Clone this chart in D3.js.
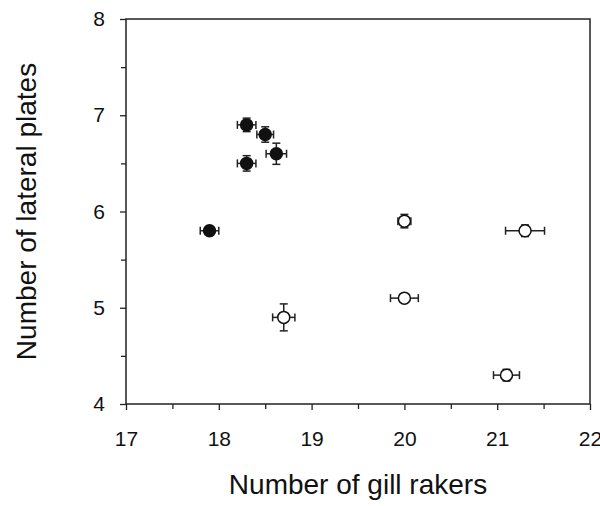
<!DOCTYPE html>
<html>
<head>
<meta charset="utf-8">
<script src="https://cdn.jsdelivr.net/npm/d3@7"></script>
<style>
  body { margin: 0; background: #fff; }
  text { font-family: "Liberation Sans", Arial, sans-serif; fill: #111; }
</style>
</head>
<body>
<div id="viz"></div>
<script>
// group 1 (filled) and group 2 (open) means with SE
const filledRakers = [18.3, 18.5, 18.62, 18.3, 17.9];
const filledPlates = [6.9, 6.8, 6.6, 6.5, 5.8];
const filledRakerErr = [0.1, 0.09, 0.11, 0.1, 0.1];
const filledPlateErr = [0.07, 0.08, 0.11, 0.08, 0.03];

const openRakers = [18.7, 20.0, 21.3, 20.0, 21.1];
const openPlates = [4.9, 5.9, 5.8, 5.1, 4.3];
const openRakerErr = [0.12, 0.07, 0.21, 0.15, 0.14];
const openPlateErr = [0.14, 0.07, 0.06, 0.03, 0.06];

const xTicks = [17, 18, 19, 20, 21, 22];
const yTicks = [4, 5, 6, 7, 8];

const margin = {top: 19, right: 10, bottom: 103, left: 126},
    width = 590 - margin.left,
    height = 404 - margin.top;

const svg = d3.select("#viz")
  .append("svg")
  .attr("width", 600)
  .attr("height", 506)
  .append("g")
    .attr("transform", `translate(${margin.left}, ${margin.top})`);

const x = d3.scaleLinear().domain([17, 22]).range([0, width]);
const y = d3.scaleLinear().domain([4, 8]).range([height, 0]);

// frame
svg.append("rect")
  .attr("width", width).attr("height", height)
  .attr("fill", "none").attr("stroke", "#222").attr("stroke-width", 1.5);

// minor ticks
svg.append("g")
  .attr("transform", `translate(0, ${height})`)
  .call(d3.axisBottom(x).tickValues(d3.range(17.5, 22, 1)).tickSize(5).tickFormat(""))
  .call(g => g.select(".domain").remove());
svg.append("g")
  .call(d3.axisLeft(y).tickValues(d3.range(4.5, 8, 1)).tickSize(5).tickFormat(""))
  .call(g => g.select(".domain").remove());

// major ticks
svg.append("g")
  .attr("transform", `translate(0, ${height})`)
  .call(d3.axisBottom(x).tickValues(xTicks).tickSize(6).tickPadding(21).tickFormat(d3.format("d")))
  .call(g => g.select(".domain").remove())
  .call(g => g.selectAll("text").style("font-size", "21px").attr("fill", "#111"));
svg.append("g")
  .call(d3.axisLeft(y).tickValues(yTicks).tickSize(6).tickPadding(15).tickFormat(d3.format("d")))
  .call(g => g.select(".domain").remove())
  .call(g => g.selectAll("text").style("font-size", "21px").attr("fill", "#111"));

svg.selectAll(".tick line").attr("stroke", "#222").attr("stroke-width", 1.3);

const filled = filledRakers.map((v, i) => ({x: v, y: filledPlates[i], ex: filledRakerErr[i], ey: filledPlateErr[i], fill: "#111"}));
const open = openRakers.map((v, i) => ({x: v, y: openPlates[i], ex: openRakerErr[i], ey: openPlateErr[i], fill: "#fff"}));
const points = filled.concat(open);

const cap = 4;
const bars = svg.append("g").attr("stroke", "#222").attr("stroke-width", 1.5);
points.forEach(d => {
  bars.append("line").attr("x1", x(d.x - d.ex)).attr("x2", x(d.x + d.ex)).attr("y1", y(d.y)).attr("y2", y(d.y));
  bars.append("line").attr("x1", x(d.x - d.ex)).attr("x2", x(d.x - d.ex)).attr("y1", y(d.y) - cap).attr("y2", y(d.y) + cap);
  bars.append("line").attr("x1", x(d.x + d.ex)).attr("x2", x(d.x + d.ex)).attr("y1", y(d.y) - cap).attr("y2", y(d.y) + cap);
  bars.append("line").attr("x1", x(d.x)).attr("x2", x(d.x)).attr("y1", y(d.y - d.ey)).attr("y2", y(d.y + d.ey));
  bars.append("line").attr("x1", x(d.x) - cap).attr("x2", x(d.x) + cap).attr("y1", y(d.y - d.ey)).attr("y2", y(d.y - d.ey));
  bars.append("line").attr("x1", x(d.x) - cap).attr("x2", x(d.x) + cap).attr("y1", y(d.y + d.ey)).attr("y2", y(d.y + d.ey));
});

svg.append("g")
  .selectAll("circle")
  .data(points)
  .enter()
  .append("circle")
    .attr("cx", d => x(d.x))
    .attr("cy", d => y(d.y))
    .attr("r", 6)
    .attr("fill", d => d.fill)
    .attr("stroke", "#111")
    .attr("stroke-width", 1.5);

// axis titles
svg.append("text")
  .attr("x", width / 2)
  .attr("y", height + 90)
  .attr("text-anchor", "middle")
  .style("font-size", "28px")
  .text("Number of gill rakers");

svg.append("text")
  .attr("transform", `translate(${-margin.left + 36}, ${height / 2}) rotate(-90)`)
  .attr("text-anchor", "middle")
  .style("font-size", "28px")
  .text("Number of lateral plates");
</script>
</body>
</html>
